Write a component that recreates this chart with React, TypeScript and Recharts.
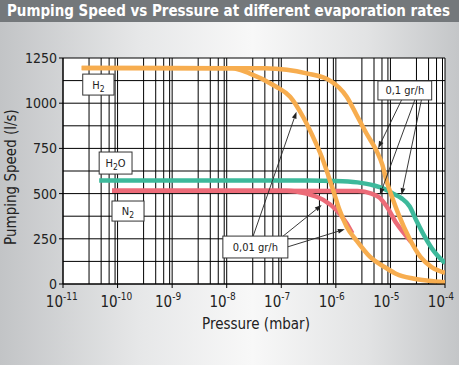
import React, { useLayoutEffect, useRef, useState } from 'react';
import { LineChart, Line, XAxis, YAxis, ReferenceLine, CartesianGrid } from 'recharts';

// narrow sans for the labels, close to the condensed face of the print
const FONT = "'Liberation Sans Narrow', 'DejaVu Sans Condensed', 'Arial Narrow', sans-serif";

const ORANGE = '#f7ad4f';
const TEAL = '#3db99b';
const PINK = '#ec6b78';

const TITLE = 'Pumping Speed vs Pressure at different evaporation rates';

const xTicks = [1e-11, 1e-10, 1e-9, 1e-8, 1e-7, 1e-6, 1e-5, 1e-4];
const yTicks = [0, 250, 500, 750, 1000, 1250];
const yGrid = [0, 125, 250, 375, 500, 625, 750, 875, 1000, 1125, 1250];
const gridSteps = [1, 3, 5, 7, 9];

// pressure (mbar) / pumping speed (l/s)
const h2SlowP = [2.2e-11, 1.26e-8, 2.6e-8, 8.1e-8, 1.45e-7, 2.5e-7, 3.8e-7, 5.5e-7, 8.9e-7, 1.17e-6, 1.58e-6, 2.4e-6, 4.2e-6, 8.5e-6, 1.29e-5, 2.6e-5, 5e-5, 1e-4];
const h2SlowS = [1195, 1193, 1165, 1091, 1036, 925, 815, 704, 520, 409, 317, 240, 151, 87, 55, 30, 18, 10];

const h2FastP = [2.2e-11, 5e-8, 1.26e-7, 2.9e-7, 7.8e-7, 1.58e-6, 2.4e-6, 3.6e-6, 5.6e-6, 7.1e-6, 8.5e-6, 1.12e-5, 1.41e-5, 2.24e-5, 3.55e-5, 5.6e-5, 1e-4];
const h2FastS = [1195, 1193, 1185, 1165, 1125, 1036, 935, 835, 735, 660, 570, 465, 385, 250, 150, 95, 62];

const h2oP = [4.6e-11, 3.2e-7, 1e-6, 2.5e-6, 5e-6, 7.9e-6, 1.12e-5, 1.58e-5, 2.24e-5, 3.0e-5, 4.2e-5, 6.3e-5, 1e-4];
const h2oS = [572, 572, 570, 562, 545, 525, 500, 475, 430, 350, 265, 180, 115];

const n2SlowP = [7.9e-11, 1.26e-7, 2.9e-7, 5.9e-7, 1.02e-6, 1.58e-6, 2.0e-6];
const n2SlowS = [516, 516, 500, 465, 409, 335, 280];

const n2FastP = [7.9e-11, 2.5e-6, 4.5e-6, 6.3e-6, 8.5e-6, 1.29e-5, 1.78e-5, 2.4e-5];
const n2FastS = [516, 514, 500, 478, 430, 336, 280, 232];

// label boxes, in data units
const boxes = [
  { x1: 2.3e-11, x2: 8.6e-11, y1: 1045, y2: 1161, text: 'H', sub: '2', tail: '' },
  { x1: 4.6e-11, x2: 1.84e-10, y1: 608, y2: 730, text: 'H', sub: '2', tail: 'O' },
  { x1: 7.9e-11, x2: 3.05e-10, y1: 348, y2: 459, text: 'N', sub: '2', tail: '' },
  { x1: 8.5e-9, x2: 1.32e-7, y1: 144, y2: 265, text: '0,01 gr/h', sub: '', tail: '' },
  { x1: 5.9e-6, x2: 5.7e-5, y1: 1018, y2: 1123, text: '0,1 gr/h', sub: '', tail: '' },
];

// arrows from the rate boxes to the curves
const arrows = [
  { from: [1.6e-5, 1018], to: [5.96e-6, 751] },
  { from: [2.8e-5, 1018], to: [6.4e-6, 492] },
  { from: [3.7e-5, 1018], to: [1.6e-5, 492] },
  { from: [3.05e-8, 265], to: [1.9e-7, 953] },
  { from: [1.08e-7, 265], to: [5.5e-7, 437] },
  { from: [1.3e-7, 205], to: [1.46e-6, 303] },
];

const toPoints = (ps: number[], ss: number[]) => ps.map((p, i) => ({ p, s: ss[i] }));

const series = [
  { key: 'n2slow', data: toPoints(n2SlowP, n2SlowS), color: PINK },
  { key: 'n2fast', data: toPoints(n2FastP, n2FastS), color: PINK },
  { key: 'h2o', data: toPoints(h2oP, h2oS), color: TEAL },
  { key: 'h2slow', data: toPoints(h2SlowP, h2SlowS), color: ORANGE },
  { key: 'h2fast', data: toPoints(h2FastP, h2FastS), color: ORANGE },
];

const xGrid = xTicks.flatMap((d, i) => (i < xTicks.length - 1 ? gridSteps.map((m) => m * d) : [d]));

// title squeezed horizontally so it fills the bar like the condensed print face
function Title() {
  const ref = useRef<HTMLSpanElement>(null);
  const [sx, setSx] = useState(1);
  useLayoutEffect(() => {
    if (ref.current) {
      const w = ref.current.offsetWidth;
      if (w > 0) setSx(443 / w);
    }
  }, []);
  return (
    <div
      style={{
        position: 'absolute',
        left: 0,
        top: 0,
        width: 459,
        height: 22,
        background: '#74787b',
        overflow: 'hidden',
      }}
    >
      <span
        ref={ref}
        style={{
          position: 'absolute',
          left: 7,
          top: 1,
          whiteSpace: 'nowrap',
          fontFamily: FONT,
          fontWeight: 'bold',
          fontSize: 16,
          lineHeight: '20px',
          color: '#fff',
          transform: `scaleX(${sx})`,
          transformOrigin: 'left center',
        }}
      >
        {TITLE}
      </span>
    </div>
  );
}

function PowerTick(props: any) {
  const { x, y, payload } = props;
  const exp = Math.round(Math.log10(payload.value));
  return (
    <g fontFamily={FONT} fill="#222">
      <text x={x} y={y + 17} textAnchor="end" fontSize={15}>10</text>
      <text x={x} y={y + 10} textAnchor="start" fontSize={10}>{exp}</text>
    </g>
  );
}

function Arrow(props: any) {
  const { x1, y1, x2, y2 } = props;
  const ang = Math.atan2(y2 - y1, x2 - x1);
  const len = 7;
  const half = 2.4;
  const bx = x2 - len * Math.cos(ang);
  const by = y2 - len * Math.sin(ang);
  const nx = -Math.sin(ang) * half;
  const ny = Math.cos(ang) * half;
  return (
    <g>
      <line x1={x1} y1={y1} x2={bx} y2={by} stroke="#222" strokeWidth={0.9} />
      <polygon points={`${x2},${y2} ${bx + nx},${by + ny} ${bx - nx},${by - ny}`} fill="#222" />
    </g>
  );
}

// the box is drawn from the two corners that the segment gives
function boxShape(b: (typeof boxes)[number]) {
  return (props: any) => {
    const x = Math.min(props.x1, props.x2);
    const y = Math.min(props.y1, props.y2);
    const width = Math.abs(props.x2 - props.x1);
    const height = Math.abs(props.y2 - props.y1);
    const cx = x + width / 2;
    const cy = y + height / 2;
    return (
      <g>
        <rect x={x} y={y} width={width} height={height} fill="#fff" stroke="#333" strokeWidth={1} />
        <text x={cx} y={cy + 4} textAnchor="middle" fontFamily={FONT} fontSize={11} fill="#222">
          <tspan>{b.text}</tspan>
          {b.sub && <tspan fontSize={8.5} dy={3}>{b.sub}</tspan>}
          {b.tail && <tspan dy={-3}>{b.tail}</tspan>}
        </text>
      </g>
    );
  };
}

export default function App() {
  return (
    <div
      style={{
        position: 'absolute',
        left: 0,
        top: 0,
        width: 459,
        height: 365,
        background: 'linear-gradient(90deg, #c2c4c6 0%, #e6e7e8 30%, #f8f8f8 55%, #e2e3e4 80%, #c4c6c8 100%)',
        overflow: 'hidden',
      }}
    >
      <div style={{ position: 'absolute', left: 0, top: 0 }}>
        <LineChart width={459} height={365} margin={{ top: 58, right: 14, left: 0, bottom: 0 }}>
          <CartesianGrid horizontal={false} vertical={false} fill="#ffffff" />
          <XAxis
            type="number"
            dataKey="p"
            scale="log"
            domain={[1e-11, 1e-4]}
            allowDataOverflow
            ticks={xTicks}
            interval={0}
            height={81}
            tick={<PowerTick />}
            tickSize={4}
            tickMargin={2}
            tickLine={{ stroke: '#000' }}
            axisLine={{ stroke: '#000' }}
            label={() => (
              <text x={256} y={329} textAnchor="middle" fontFamily={FONT} fontSize={15} fill="#222">
                Pressure (mbar)
              </text>
            )}
          />
          <YAxis
            type="number"
            domain={[0, 1250]}
            ticks={yTicks}
            interval={0}
            width={63}
            tick={{ fontSize: 14, fill: '#222', fontFamily: FONT }}
            tickSize={4}
            tickMargin={2}
            tickLine={{ stroke: '#000' }}
            axisLine={{ stroke: '#000' }}
            label={() => (
              <text
                transform="translate(16,177) rotate(-90)"
                textAnchor="middle"
                fontFamily={FONT}
                fontSize={15}
                fill="#222"
              >
                Pumping Speed (l/s)
              </text>
            )}
          />
          {yGrid.map((v) => (
            <ReferenceLine key={`h${v}`} y={v} stroke="#000" strokeWidth={1} ifOverflow="visible" />
          ))}
          {xGrid.map((v) => (
            <ReferenceLine key={`v${v}`} x={v} stroke="#000" strokeWidth={1} ifOverflow="visible" />
          ))}
          {series.map((s) => (
            <Line
              key={s.key}
              data={s.data}
              dataKey="s"
              type="monotone"
              stroke={s.color}
              strokeWidth={4.5}
              dot={false}
              activeDot={false}
              isAnimationActive={false}
            />
          ))}
          {arrows.map((a, i) => (
            <ReferenceLine
              key={`a${i}`}
              segment={[{ x: a.from[0], y: a.from[1] }, { x: a.to[0], y: a.to[1] }]}
              ifOverflow="visible"
              shape={(p: any) => <Arrow {...p} />}
            />
          ))}
          {boxes.map((b, i) => (
            <ReferenceLine
              key={`b${i}`}
              segment={[{ x: b.x1, y: b.y2 }, { x: b.x2, y: b.y1 }]}
              ifOverflow="visible"
              shape={boxShape(b)}
            />
          ))}
        </LineChart>
      </div>
      <Title />
    </div>
  );
}
